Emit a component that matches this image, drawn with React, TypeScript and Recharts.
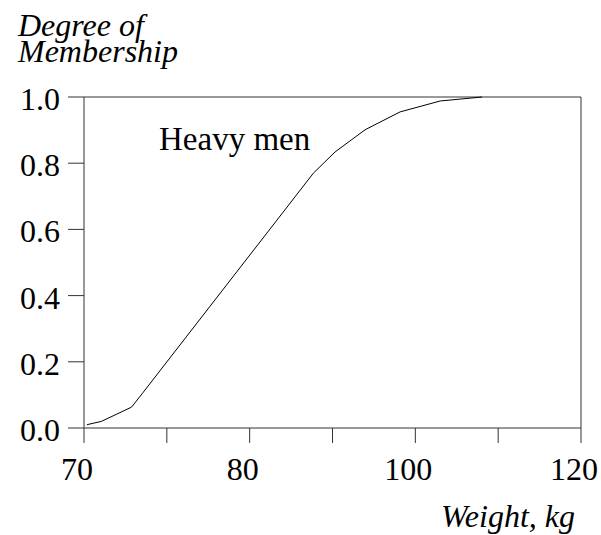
import React from "react";
import {
  LineChart,
  Line,
  XAxis,
  YAxis,
  ReferenceLine,
  Customized,
} from "recharts";

// membership curve
const weights = [70.3, 71.75, 74.78, 75.86, 93.08, 95.26, 98.28, 101.8, 105.84, 110.05];
const membership = [0.01, 0.02, 0.063, 0.104, 0.77, 0.834, 0.901, 0.955, 0.988, 1.0];

const xTickValues = [70, 78.333, 86.667, 95, 103.333, 111.667, 120];
const xTickLabels = ["70", "", "80", "", "100", "", "120"];
const yTickValues = [0, 0.2, 0.4, 0.6, 0.8, 1.0];

const seriesName = "Heavy men";
const yTitle = ["Degree of", "Membership"];
const xTitle = "Weight, kg";

const data = weights.map((w, i) => ({ w, m: membership[i] }));

const FONT = "'Liberation Serif', 'Times New Roman', serif";
const AXIS = "#333";

const XTick = (props: any) => {
  const { x, y, index } = props;
  return (
    <text x={x - 7} y={y + 23} textAnchor="middle" fontFamily={FONT} fontSize={32} fill="#000">
      {xTickLabels[index]}
    </text>
  );
};

const YTick = (props: any) => {
  const { x, y, payload } = props;
  return (
    <text x={x} y={y + 13} textAnchor="end" fontFamily={FONT} fontSize={32} fill="#000">
      {Number(payload.value).toFixed(1)}
    </text>
  );
};

const Titles = () => (
  <g fontFamily={FONT} fill="#000">
    <text x={18} y={36} fontSize={32} fontStyle="italic">{yTitle[0]}</text>
    <text x={18} y={62} fontSize={32} fontStyle="italic">{yTitle[1]}</text>
    <text x={159} y={150} fontSize={33}>{seriesName}</text>
    <text x={575} y={527} fontSize={32} fontStyle="italic" textAnchor="end">{xTitle}</text>
  </g>
);

export default function App() {
  return (
    <div style={{ position: "absolute", left: 0, top: 0, background: "#fff" }}>
      <LineChart width={601} height={535} data={data} margin={{ top: 97, right: 20, bottom: 0, left: 0 }}>
        <XAxis
          dataKey="w"
          type="number"
          domain={[70, 120]}
          ticks={xTickValues}
          interval={0}
          height={107}
          tickSize={15}
          tickMargin={14}
          tick={<XTick />}
          axisLine={{ stroke: AXIS }}
          tickLine={{ stroke: AXIS }}
        />
        <YAxis
          type="number"
          domain={[0, 1]}
          ticks={yTickValues}
          interval={0}
          width={84}
          tickSize={16}
          tickMargin={8}
          tick={<YTick />}
          axisLine={{ stroke: AXIS }}
          tickLine={{ stroke: AXIS }}
        />
        <ReferenceLine y={1} stroke={AXIS} />
        <ReferenceLine x={120} stroke={AXIS} />
        <Line
          type="linear"
          dataKey="m"
          stroke="#000"
          strokeWidth={1}
          dot={false}
          isAnimationActive={false}
        />
        <Customized component={Titles} />
      </LineChart>
    </div>
  );
}
